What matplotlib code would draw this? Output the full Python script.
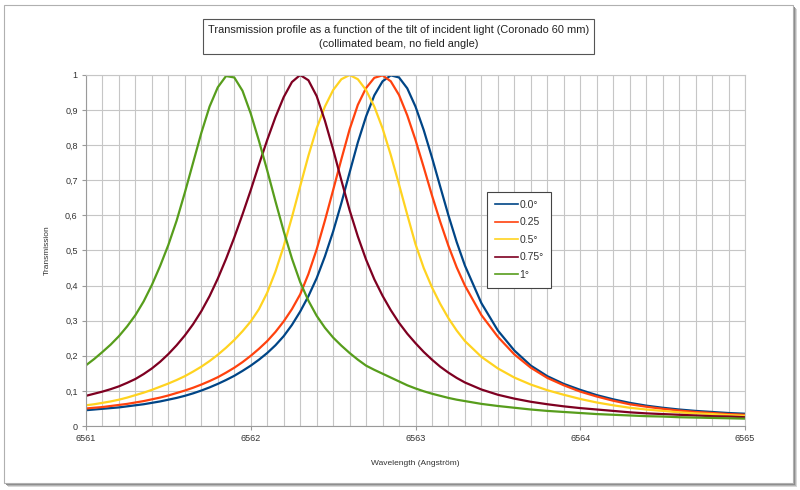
import matplotlib
matplotlib.use("Agg")
import matplotlib.pyplot as plt
from matplotlib.patches import Rectangle
from matplotlib.ticker import MultipleLocator, FuncFormatter

plt.rcParams['font.family'] = ['Liberation Sans', 'DejaVu Sans']

# wavelength samples (Angstrom)
wavelength = [
    6561.0, 6561.05, 6561.1, 6561.15, 6561.2, 6561.25, 6561.3, 6561.35, 6561.4, 6561.45,
    6561.5, 6561.55, 6561.6, 6561.65, 6561.7, 6561.75, 6561.8, 6561.85, 6561.9, 6561.95,
    6562.0, 6562.05, 6562.1, 6562.15, 6562.2, 6562.25, 6562.3, 6562.35, 6562.4, 6562.45,
    6562.5, 6562.55, 6562.6, 6562.65, 6562.7, 6562.75, 6562.8, 6562.85, 6562.9, 6562.95,
    6563.0, 6563.05, 6563.1, 6563.15, 6563.2, 6563.25, 6563.3,
    6563.4, 6563.5, 6563.6, 6563.7, 6563.8, 6563.9, 6564.0, 6564.1, 6564.2, 6564.3,
    6564.4, 6564.5, 6564.6, 6564.7, 6564.8, 6564.9, 6565.0,
]

tilt_0 = [
    0.045, 0.047, 0.049, 0.051, 0.053, 0.056, 0.059, 0.062, 0.066, 0.070,
    0.075, 0.080, 0.086, 0.093, 0.101, 0.110, 0.120, 0.131, 0.143, 0.157,
    0.172, 0.189, 0.208, 0.230, 0.256, 0.288, 0.326, 0.370, 0.421, 0.483,
    0.554, 0.635, 0.722, 0.808, 0.882, 0.942, 0.982, 0.999, 0.993, 0.962,
    0.910, 0.843, 0.765, 0.682, 0.600, 0.524, 0.457,
    0.350, 0.272, 0.215, 0.172, 0.142, 0.120, 0.103, 0.088, 0.076, 0.066,
    0.058, 0.052, 0.047, 0.043, 0.040, 0.037, 0.035,
]

tilt_025 = [
    0.050, 0.052, 0.054, 0.057, 0.060, 0.063, 0.067, 0.071, 0.076, 0.081,
    0.087, 0.094, 0.101, 0.109, 0.118, 0.128, 0.139, 0.152, 0.166, 0.182,
    0.200, 0.220, 0.242, 0.268, 0.298, 0.333, 0.375, 0.433, 0.503, 0.585,
    0.672, 0.760, 0.845, 0.915, 0.963, 0.992, 0.999, 0.982, 0.943, 0.885,
    0.815, 0.737, 0.657, 0.582, 0.513, 0.452, 0.400,
    0.316, 0.254, 0.204, 0.166, 0.137, 0.116, 0.098, 0.084, 0.072, 0.062,
    0.055, 0.049, 0.044, 0.040, 0.037, 0.034, 0.032,
]

tilt_05 = [
    0.059, 0.062, 0.066, 0.070, 0.075, 0.081, 0.088, 0.095, 0.103, 0.112,
    0.121, 0.131, 0.142, 0.155, 0.169, 0.185, 0.203, 0.223, 0.245, 0.270,
    0.298, 0.333, 0.380, 0.440, 0.512, 0.595, 0.683, 0.770, 0.848, 0.910,
    0.957, 0.988, 1.000, 0.988, 0.957, 0.910, 0.848, 0.772, 0.688, 0.602,
    0.518, 0.450, 0.395, 0.348, 0.307, 0.272, 0.242,
    0.197, 0.164, 0.138, 0.118, 0.102, 0.089, 0.077, 0.067, 0.059, 0.052,
    0.047, 0.043, 0.039, 0.036, 0.034, 0.031, 0.029,
]

tilt_075 = [
    0.086, 0.092, 0.098, 0.105, 0.113, 0.123, 0.134, 0.148, 0.164, 0.183,
    0.205, 0.230, 0.258, 0.290, 0.327, 0.370, 0.420, 0.476, 0.537, 0.603,
    0.672, 0.745, 0.815, 0.880, 0.937, 0.980, 1.000, 0.985, 0.940, 0.870,
    0.788, 0.700, 0.615, 0.540, 0.474, 0.418, 0.371, 0.330, 0.294, 0.263,
    0.236, 0.211, 0.189, 0.169, 0.152, 0.137, 0.124,
    0.104, 0.089, 0.078, 0.069, 0.062, 0.056, 0.051, 0.047, 0.043, 0.039,
    0.036, 0.034, 0.032, 0.030, 0.028, 0.027, 0.025,
]

tilt_1 = [
    0.173, 0.191, 0.211, 0.232, 0.256, 0.284, 0.316, 0.355, 0.402, 0.456,
    0.516, 0.585, 0.665, 0.750, 0.835, 0.910, 0.965, 0.997, 0.993, 0.955,
    0.890, 0.812, 0.728, 0.640, 0.555, 0.477, 0.410, 0.357, 0.314, 0.280,
    0.252, 0.229, 0.208, 0.189, 0.172, 0.160, 0.149, 0.138, 0.127, 0.116,
    0.107, 0.099, 0.092, 0.086, 0.080, 0.075, 0.071,
    0.063, 0.057, 0.052, 0.047, 0.043, 0.040, 0.037, 0.034, 0.032, 0.030,
    0.028, 0.027, 0.025, 0.024, 0.023, 0.022, 0.021,
]

series = [tilt_0, tilt_025, tilt_05, tilt_075, tilt_1]
labels = ['0.0°', '0.25', '0.5°', '0.75°', '1°']
colors = ['#004586', '#ff420e', '#ffd320', '#7e0021', '#579d1c']

W, H = 800, 490
fig = plt.figure(figsize=(8, 4.9), dpi=100)

# page frame with a soft drop shadow (kept behind the axes)
for off, col in [(4, '#d8d8d8'), (3, '#b4b4b4'), (2, '#8c8c8c')]:
    fig.patches.append(Rectangle(((4 + off) / W, 1 - (483 + off) / H), 789 / W, 478 / H,
                                 transform=fig.transFigure, facecolor=col, edgecolor='none', zorder=-3))
fig.patches.append(Rectangle((4 / W, 1 - 483 / H), 789 / W, 478 / H, transform=fig.transFigure,
                             facecolor='white', edgecolor='#b0b0b0', lw=0.8, zorder=-2))

ax = fig.add_axes([86 / W, 1 - 426 / H, 659 / W, 351 / H])
ax.set_zorder(1)
for y, lab, col in zip(series, labels, colors):
    ax.plot(wavelength, y, color=col, lw=1.6, label=lab, solid_joinstyle='round')

ax.set_xlim(6561, 6565)
ax.set_ylim(0, 1)
ax.xaxis.set_major_locator(MultipleLocator(1))
ax.xaxis.set_minor_locator(MultipleLocator(0.1))
ax.yaxis.set_major_locator(MultipleLocator(0.1))


def ylab(v, pos):
    if abs(v) < 1e-9:
        return '0'
    if abs(v - 1) < 1e-9:
        return '1'
    return f"{v:.1f}".replace('.', ',')


ax.yaxis.set_major_formatter(FuncFormatter(ylab))
ax.xaxis.set_major_formatter(FuncFormatter(lambda v, p: f"{int(round(v))}"))
ax.grid(True, which='both', color='#c6c6c6', lw=0.8)
ax.set_axisbelow(True)
for s in ['top', 'right']:
    ax.spines[s].set_color('#c6c6c6')
    ax.spines[s].set_linewidth(0.8)
for s in ['left', 'bottom']:
    ax.spines[s].set_color('#9a9a9a')
    ax.spines[s].set_linewidth(0.8)
ax.tick_params(axis='both', which='major', labelsize=6.5, colors='#9a9a9a', labelcolor='#333333',
               length=3, width=0.8, direction='out', pad=3)
ax.tick_params(axis='x', which='minor', length=0)

ax.set_xlabel('Wavelength (Angström)', fontsize=6, color='#333333', labelpad=12)
ax.set_ylabel('Transmission', fontsize=6, color='#333333', labelpad=10)

leg = ax.legend(loc='upper left', bbox_to_anchor=((487 - 86) / 659, (426 - 192) / 351),
                borderaxespad=0, fontsize=7.5, frameon=True, fancybox=False,
                handlelength=2.2, handletextpad=0.15, labelspacing=0.72,
                borderpad=0.75, edgecolor='#444444', framealpha=1)
leg.get_frame().set_linewidth(0.8)
for t in leg.get_texts():
    t.set_color('#333333')
for l in leg.get_lines():
    l.set_linewidth(1.2)

# title box
fig.patches.append(Rectangle((203 / W, 1 - 54 / H), 391 / W, 35 / H, transform=fig.transFigure,
                             facecolor='white', edgecolor='#555555', lw=0.8, zorder=2))
fig.text(398.5 / W, 1 - 37 / H,
         'Transmission profile as a function of the tilt of incident light (Coronado 60 mm)\n'
         '(collimated beam, no field angle)',
         ha='center', va='center', fontsize=7.9, color='#222222', linespacing=1.45, zorder=3)

fig.savefig('out.png', dpi=100)
